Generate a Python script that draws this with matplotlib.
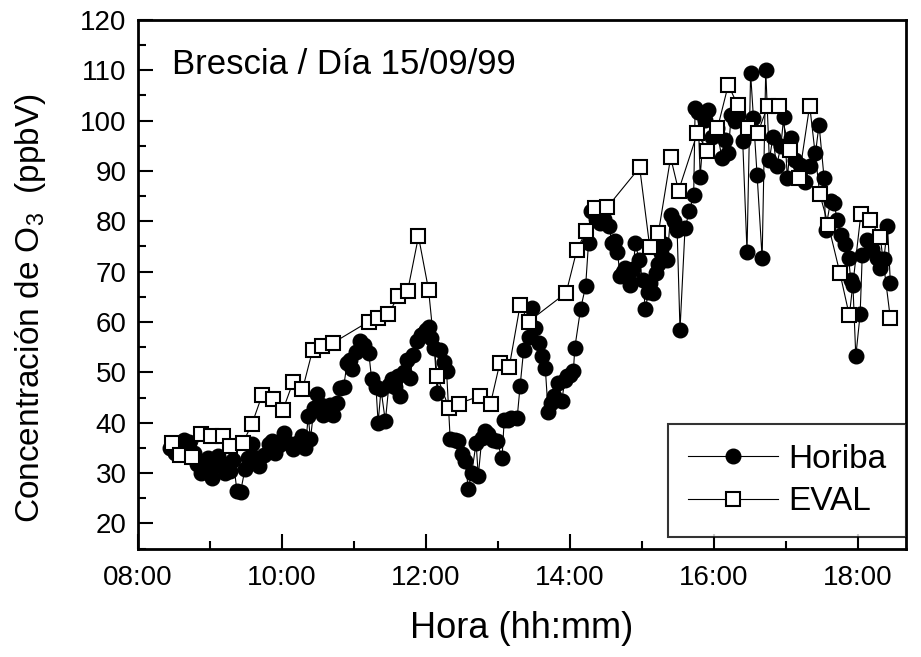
import matplotlib
matplotlib.use("Agg")
import matplotlib.pyplot as plt
from matplotlib.ticker import FixedLocator, FixedFormatter, MultipleLocator

plt.rcParams['font.family'] = ['Liberation Sans', 'DejaVu Sans']
plt.rcParams['mathtext.fontset'] = 'custom'
plt.rcParams['mathtext.rm'] = 'Liberation Sans'
plt.rcParams['mathtext.it'] = 'Liberation Sans'

# hours (decimal) and ozone (ppbV)
horiba_h = [8.45, 8.52, 8.58, 8.65, 8.72, 8.78, 8.83, 8.88, 8.93, 8.98,
            9.03, 9.08, 9.12, 9.17, 9.22, 9.28, 9.33, 9.38, 9.43, 9.49,
            9.54, 9.59, 9.64, 9.68, 9.75, 9.82, 9.87, 9.91, 9.97, 10.03,
            10.09, 10.16, 10.22, 10.28, 10.33, 10.37, 10.40, 10.45, 10.49, 10.54,
            10.58, 10.63, 10.67, 10.72, 10.77, 10.81, 10.86, 10.91, 10.95, 10.98,
            11.03, 11.09, 11.15, 11.21, 11.25, 11.31, 11.34, 11.38, 11.44, 11.49,
            11.53, 11.58, 11.62, 11.65, 11.70, 11.74, 11.78, 11.83, 11.88, 11.93,
            11.97, 12.01, 12.04, 12.08, 12.12, 12.16, 12.20, 12.25, 12.29, 12.34,
            12.40, 12.45, 12.50, 12.55, 12.59, 12.64, 12.70, 12.73, 12.78, 12.82,
            12.87, 12.93, 12.99, 13.06, 13.09, 13.14, 13.19, 13.27, 13.31, 13.36,
            13.43, 13.47, 13.52, 13.57, 13.61, 13.66, 13.70, 13.74, 13.78, 13.84,
            13.89, 13.93, 13.96, 14.01, 14.05, 14.07, 14.15, 14.22, 14.26, 14.30,
            14.36, 14.42, 14.48, 14.54, 14.59, 14.63, 14.66, 14.70, 14.74, 14.77,
            14.81, 14.84, 14.88, 14.91, 14.96, 15.01, 15.05, 15.09, 15.12, 15.15,
            15.19, 15.23, 15.26, 15.31, 15.35, 15.40, 15.45, 15.49, 15.53, 15.60,
            15.66, 15.72, 15.74, 15.78, 15.81, 15.87, 15.92, 15.98, 16.04, 16.11,
            16.16, 16.20, 16.24, 16.30, 16.34, 16.40, 16.46, 16.51, 16.55, 16.60,
            16.67, 16.72, 16.77, 16.82, 16.87, 16.93, 16.97, 17.02, 17.07, 17.13,
            17.20, 17.27, 17.33, 17.41, 17.46, 17.53, 17.55, 17.62, 17.67, 17.71,
            17.76, 17.82, 17.87, 17.90, 17.93, 17.97, 18.03, 18.06, 18.12, 18.20,
            18.26, 18.31, 18.36, 18.41, 18.45]
horiba_o3 = [35.0, 34.0, 35.5, 36.5, 36.2, 34.0, 31.7, 30.1, 31.5, 33.0,
             29.1, 31.5, 33.4, 32.0, 30.0, 30.4, 32.5, 26.4, 26.2, 30.7,
             33.0, 35.7, 33.0, 31.4, 33.5, 35.7, 36.3, 34.0, 35.5, 38.0,
             36.0, 34.7, 36.0, 37.3, 35.0, 41.3, 36.7, 43.0, 45.6, 43.5,
             41.6, 42.5, 43.6, 41.6, 44.0, 46.9, 47.0, 51.9, 52.5, 50.6,
             54.0, 56.2, 55.5, 53.9, 48.6, 47.0, 40.0, 46.6, 40.3, 47.5,
             48.6, 47.0, 49.2, 45.3, 50.0, 52.5, 48.9, 53.5, 56.2, 57.5,
             57.8, 58.5, 59.1, 56.8, 54.9, 45.9, 54.5, 52.0, 50.2, 36.8,
             36.5, 36.3, 33.7, 32.4, 26.9, 30.1, 36.0, 29.4, 37.0, 38.3,
             37.7, 36.5, 36.3, 33.0, 40.6, 40.5, 41.0, 41.0, 47.2, 54.5,
             57.0, 62.8, 58.8, 55.8, 53.2, 50.9, 42.1, 44.0, 45.3, 47.9,
             44.3, 48.5, 49.2, 49.5, 50.2, 54.9, 62.6, 67.1, 75.7, 82.0,
             80.5, 79.7, 80.5, 79.0, 75.7, 76.0, 74.0, 69.1, 70.0, 70.7,
             69.0, 67.4, 70.5, 75.7, 72.4, 68.4, 62.5, 66.0, 67.8, 65.8,
             69.7, 71.5, 73.7, 75.4, 72.4, 81.3, 80.0, 78.3, 58.5, 78.7,
             82.0, 85.3, 102.5, 101.8, 88.9, 100.2, 102.1, 96.8, 98.5, 92.6,
             96.2, 93.5, 101.2, 100.0, 101.2, 96.0, 74.0, 109.4, 100.5, 89.2,
             72.7, 110.1, 92.2, 96.8, 90.9, 95.0, 100.8, 88.6, 96.5, 92.2,
             91.2, 87.9, 91.0, 93.5, 99.2, 88.6, 78.3, 84.0, 83.6, 80.3,
             77.3, 75.5, 72.7, 68.4, 67.4, 53.2, 61.5, 73.4, 76.3, 74.5,
             72.7, 70.7, 72.5, 79.0, 67.8]

eval_h = [8.475, 8.59, 8.76, 8.88, 9.02, 9.18, 9.28, 9.46, 9.59, 9.73,
          9.88, 10.02, 10.16, 10.29, 10.43, 10.56, 10.72, 11.21, 11.34, 11.48,
          11.62, 11.75, 11.90, 12.04, 12.16, 12.32, 12.46, 12.75, 12.90, 13.03,
          13.16, 13.31, 13.43, 13.95, 14.10, 14.23, 14.35, 14.52, 14.97, 15.11,
          15.23, 15.40, 15.51, 15.77, 15.91, 16.05, 16.20, 16.33, 16.48, 16.61,
          16.75, 16.91, 17.05, 17.18, 17.33, 17.47, 17.59, 17.75, 17.88, 18.04,
          18.17, 18.31, 18.45]
eval_o3 = [36.0, 33.5, 33.2, 37.7, 37.3, 37.3, 35.3, 35.9, 39.8, 45.5,
           44.8, 42.6, 48.1, 46.6, 54.4, 55.2, 55.9, 60.1, 60.8, 61.5,
           65.2, 66.2, 77.0, 66.4, 49.2, 43.0, 43.8, 45.3, 43.8, 51.9,
           51.1, 63.3, 60.1, 65.8, 74.4, 78.1, 82.6, 82.8, 90.7, 74.9,
           77.7, 92.7, 86.1, 97.5, 93.9, 98.5, 107.1, 103.1, 98.6, 97.6,
           103.0, 103.0, 94.2, 88.6, 103.0, 85.4, 79.2, 69.7, 61.3, 81.4,
           80.3, 76.8, 60.7]

hour_ticks = [8, 10, 12, 14, 16, 18]
hour_labels = ["08:00", "10:00", "12:00", "14:00", "16:00", "18:00"]

fig = plt.figure(figsize=(9.21, 6.57), dpi=100)
ax = fig.add_axes([0.1493, 0.1651, 0.8344, 0.8045])

ax.plot(horiba_h, horiba_o3, '-', color='black', lw=0.8, marker='o',
        ms=10.5, mfc='black', mec='black', label='Horiba', zorder=2)
ax.plot(eval_h, eval_o3, '-', color='black', lw=0.8, marker='s',
        ms=10, mfc='white', mec='black', mew=1.5, label='EVAL', zorder=3)

ax.set_xlim(8, 18 + 40 / 60)
ax.set_ylim(15, 120)

ax.xaxis.set_major_locator(FixedLocator(hour_ticks))
ax.xaxis.set_major_formatter(FixedFormatter(hour_labels))
ax.xaxis.set_minor_locator(MultipleLocator(1))
ax.yaxis.set_major_locator(MultipleLocator(10))
ax.yaxis.set_minor_locator(MultipleLocator(5))
ax.tick_params(which='both', direction='in', width=1.5, labelsize=20,
               top=False, right=False)
ax.tick_params(which='major', length=11, pad=12)
ax.tick_params(which='minor', length=6)
ax.tick_params(axis='y', which='major', pad=8)
for s in ax.spines.values():
    s.set_linewidth(2)

ax.set_xlabel("Hora (hh:mm)", fontsize=26, labelpad=14)
ax.set_ylabel("Concentración de O$_3$  (ppbV)", fontsize=24)
ax.yaxis.set_label_coords(-0.117, 0.455)

ax.text(0.045, 0.915, "Brescia / Día 15/09/99", transform=ax.transAxes,
        fontsize=25, va='center', ha='left')

leg = ax.legend(loc='lower right', bbox_to_anchor=(1.0, 0.021),
                borderaxespad=0, fontsize=24, frameon=True, fancybox=False,
                handlelength=2.7, handletextpad=0.3, borderpad=0.6,
                labelspacing=0.35)
leg.get_frame().set_edgecolor('black')
leg.get_frame().set_linewidth(1.5)

fig.savefig("out.png", dpi=100)
